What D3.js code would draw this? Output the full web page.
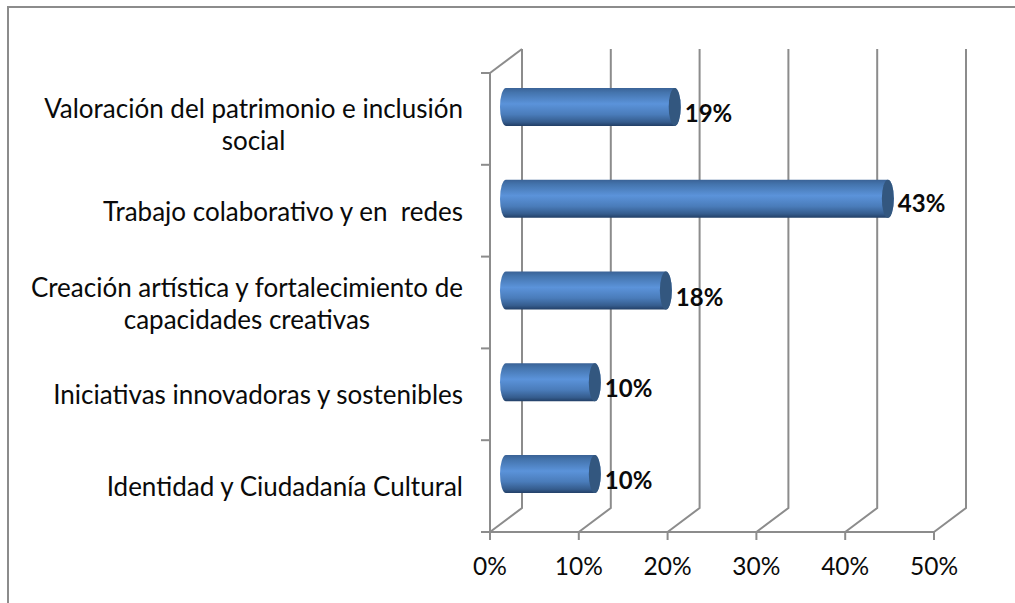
<!DOCTYPE html>
<html><head><meta charset="utf-8">
<script src="https://cdn.jsdelivr.net/npm/d3@7"></script>
<style>html,body{margin:0;padding:0;background:#fff}svg{display:block}text{font-family:Lato,"Open Sans",sans-serif;fill:#0a0a0a;white-space:pre}</style>
</head><body><svg id="c" width="1015" height="603"></svg>
<script>
const categories=[["Valoración del patrimonio e inclusión","social"],["Trabajo colaborativo y en  redes"],["Creación artística y fortalecimiento de","capacidades creativas"],["Iniciativas innovadoras y sostenibles"],["Identidad y Ciudadanía Cultural"]];
const values=[19,43,18,10,10];
const xTicks=[0,10,20,30,40,50];
const svg=d3.select("#c");
const x=d3.scaleLinear().domain([0,50]).range([490,934]);
const y=d3.scaleBand().domain(d3.range(categories.length)).range([73,532]);
const dx=32,dy=-24,grey="#8c8c8c",plotBottom=532,plotTop=73;
const defs=svg.append("defs");
const g=defs.append("linearGradient").attr("id","cyl").attr("x1",0).attr("y1",0).attr("x2",0).attr("y2",1);
[[0,"#3a6296"],[.12,"#4474ad"],[.42,"#5b93da"],[.7,"#4a7cba"],[.9,"#355c8d"],[1,"#223f66"]].forEach(s=>g.append("stop").attr("offset",s[0]).attr("stop-color",s[1]));
svg.append("path").attr("d","M8,603V7H1015").attr("fill","none").attr("stroke",grey).attr("stroke-width",2);
const gl=svg.append("g").attr("fill","none").attr("stroke",grey).attr("stroke-width",2);
gl.append("path").attr("d",`M${x(0)},${plotTop}V${plotBottom}H${x(50)}`);
xTicks.forEach(t=>{
  gl.append("path").attr("d",`M${x(t)},${plotBottom}l${dx},${dy}V${plotTop+dy}`);
  gl.append("path").attr("d",`M${x(t)},${plotBottom}v8`);
});
gl.append("path").attr("d",`M${x(0)},${plotTop}l${dx},${dy}`);
d3.range(categories.length+1).forEach(i=>{
  const yy=i<categories.length?y(i):plotBottom;
  gl.append("path").attr("d",`M${x(0)-9},${yy}H${x(0)}`);
});
const rx=6,h=38;
categories.forEach((c,i)=>{
  const cy=y(i)+y.bandwidth()/2-12, x0=x(0)+16, x1=x(values[i])+16;
  svg.append("path").attr("d",`M${x0},${cy-h/2}H${x1}A${rx},${h/2} 0 0 1 ${x1},${cy+h/2}H${x0}A${rx},${h/2} 0 0 1 ${x0},${cy-h/2}Z`).attr("fill","url(#cyl)");
  svg.append("ellipse").attr("cx",x1).attr("cy",cy).attr("rx",rx).attr("ry",h/2).attr("fill","#33577f");
  svg.append("text").attr("x",x1+10).attr("y",cy+15-(i==1?2:0)).attr("font-size",24).attr("font-weight",700).text(values[i]+"%");
  const n=c.length, lh=32, base=y(i)+y.bandwidth()/2+10-(n-1)*lh/2+(i==0?5:0);
  const first=svg.append("text").attr("x",463).attr("y",base).attr("text-anchor","end").attr("font-size",26).text(c[0]);
  if(n>1){
    const w=first.node().getComputedTextLength();
    svg.append("text").attr("x",463-w/2).attr("y",base+lh).attr("text-anchor","middle").attr("font-size",26).text(c[1]);
  }
});
xTicks.forEach(t=>svg.append("text").attr("x",x(t)).attr("y",575).attr("text-anchor","middle").attr("font-size",24.5).text(t+"%"));
</script></body></html>
